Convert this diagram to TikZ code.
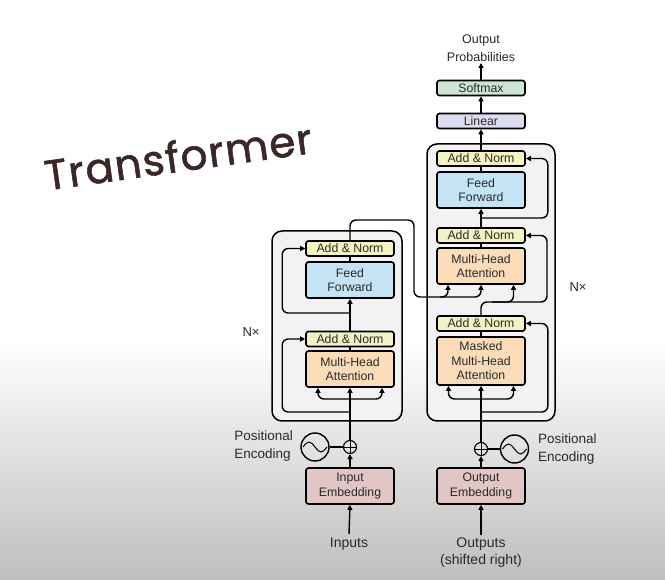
\documentclass[tikz,border=0pt]{standalone}
\usepackage{fontspec}
\setmainfont{Liberation Sans}
\newfontfamily\titlefont[FakeBold=1.4,LetterSpace=3]{Poppins}
\usetikzlibrary{arrows.meta,calc}
\definecolor{txt}{HTML}{2A2A2A}
\definecolor{anc}{HTML}{F2F2C2}
\definecolor{ffc}{HTML}{C4E3F5}
\definecolor{mhac}{HTML}{FADCB9}
\definecolor{embc}{HTML}{E2C6C6}
\definecolor{linc}{HTML}{DCDCF1}
\definecolor{softc}{HTML}{CDE5D3}
\definecolor{layerc}{HTML}{F2F2F5}
\definecolor{bgc}{HTML}{BEBEBE}
\definecolor{titlec}{HTML}{3B2727}
\begin{document}
\begin{tikzpicture}[x=1pt,y=-1pt,
  blk/.style={draw=black, line width=1.6pt, rounded corners=2.5pt, minimum width=88pt, inner sep=0pt, align=center, font=\fontsize{12.3}{14.5}\selectfont, text=txt},
  an/.style={blk, fill=anc, minimum height=15pt},
  big/.style={blk, minimum height=36pt},
  layer/.style={draw=black, line width=1.5pt, rounded corners=10pt, fill=layerc, inner sep=0pt},
  ln/.style={draw=black, line width=1.4pt},
  arr/.style={ln, -{Triangle[length=5pt,width=5pt]}},
  lbl/.style={text=txt, font=\fontsize{14}{17}\selectfont, align=center},
  plus/.style={circle, draw=black, line width=1.1pt, minimum size=13pt, inner sep=0pt},
  sinc/.style={circle, draw=black, line width=1.4pt, minimum size=28pt, inner sep=0pt},
  rc/.style={rounded corners=6pt}]
\useasboundingbox (0,0) rectangle (665,580);
% background
\fill[white] (0,0) rectangle (665,340);
\shade[top color=white, bottom color=bgc] (0,340) rectangle (665,580);
% title
\node[rotate=8, font=\titlefont\fontsize{42}{42}\selectfont, text=titlec] (title) at (178,156) {Transformer};
% layer frames
\node[layer, minimum width=130pt, minimum height=190pt] (encL) at (337,326) {};
\node[layer, minimum width=128pt, minimum height=277pt] (decL) at (491,282.5) {};
% encoder
\node[an] (eAN2) at (350,248.5) {Add \& Norm};
\node[big, fill=ffc] (eFF) at (350,280) {Feed\\Forward};
\node[an] (eAN1) at (350,339) {Add \& Norm};
\node[big, fill=mhac] (eMHA) at (350,369) {Multi-Head\\Attention};
\node[big, fill=embc] (eEmb) at (350,486) {Input\\Embedding};
\node[plus] (ePlus) at (350,447) {};
\node[sinc] (eSin) at (315,447) {};
\node[lbl, align=left, anchor=east, font=\fontsize{13.5}{18}\selectfont, inner sep=0pt] (ePE) at (293,446) {Positional\\Encoding};
\node[lbl, font=\fontsize{13}{15}\selectfont] (eNx) at (251,332) {N×};
\node[lbl] (inp) at (349,544) {Inputs};
% decoder
\node[big, fill=softc, minimum height=15pt] (dSoft) at (481,88) {Softmax};
\node[big, fill=linc, minimum height=15pt] (dLin) at (481,121) {Linear};
\node[an] (dAN3) at (481,158.5) {Add \& Norm};
\node[big, fill=ffc] (dFF) at (481,190) {Feed\\Forward};
\node[an] (dAN2) at (481,235.5) {Add \& Norm};
\node[big, fill=mhac] (dMHA) at (481,266) {Multi-Head\\Attention};
\node[an] (dAN1) at (481,323.5) {Add \& Norm};
\node[big, fill=mhac, minimum height=48pt] (dMMHA) at (481,361) {Masked\\Multi-Head\\Attention};
\node[big, fill=embc] (dEmb) at (481,486) {Output\\Embedding};
\node[plus] (dPlus) at (481,449) {};
\node[sinc] (dSin) at (514.5,449) {};
\node[lbl, align=left, anchor=west, font=\fontsize{13.5}{18}\selectfont, inner sep=0pt] (dPE) at (538,449) {Positional\\Encoding};
\node[lbl, font=\fontsize{13}{15}\selectfont] (dNx) at (578,287) {N×};
\node[lbl] (outp) at (481,553) {Outputs\\(shifted right)};
\node[lbl, font=\fontsize{12.5}{18}\selectfont, anchor=south, inner sep=1pt] (prob) at (481,63) {Output\\Probabilities};
% plus and sine glyphs
\draw[line width=0.8pt] (ePlus.north) -- (ePlus.south) (ePlus.west) -- (ePlus.east);
\draw[line width=0.8pt] (dPlus.north) -- (dPlus.south) (dPlus.west) -- (dPlus.east);
\draw[line width=1pt] ([xshift=-12pt]eSin.center) sin ++(6,-5) cos ++(6,5) sin ++(6,5) cos ++(6,-5);
\draw[line width=1pt] ([xshift=-12pt]dSin.center) sin ++(6,-5) cos ++(6,5) sin ++(6,5) cos ++(6,-5);
% helper coordinates
\coordinate (eF1) at (350,399);
\coordinate (eR1) at (350,412);
\coordinate (eR2) at (350,313);
\coordinate (cE1) at (414,220);
\coordinate (cE2) at (414,297);
\coordinate (cE3) at (440,297);
\coordinate (dF1) at (481,399);
\coordinate (dR1) at (481,412);
\coordinate (cD1) at (547,302);
\coordinate (cD2) at (492,302);
\coordinate (dR3) at (481,218);
% encoder connectors
\draw[arr] (inp.north) -- (eEmb.south);
\draw[arr] (eEmb.north) -- (ePlus.south);
\draw[ln] (eSin.east) -- (ePlus.west);
\draw[arr] (ePlus.north) -- (eMHA.south);
\draw[arr, rc] (eF1) -| ([xshift=-32pt]eMHA.south);
\draw[arr, rc] (eF1) -| ([xshift=32pt]eMHA.south);
\draw[arr, rc] (eR1) -| ([xshift=-23pt]eAN1.west) -- (eAN1.west);
\draw[ln] (eMHA.north) -- (eAN1.south);
\draw[arr] (eAN1.north) -- (eFF.south);
\draw[arr, rc] (eR2) -| ([xshift=-23pt]eAN2.west) -- (eAN2.west);
\draw[ln] (eFF.north) -- (eAN2.south);
\draw[arr, rc] (eAN2.north) |- (cE1) -- (cE2) -| ([xshift=-33pt]dMHA.south);
\draw[arr, rc] (cE3) -| (dMHA.south);
% decoder connectors
\draw[arr] (outp.north) -- (dEmb.south);
\draw[arr] (dEmb.north) -- (dPlus.south);
\draw[ln] (dSin.west) -- (dPlus.east);
\draw[arr] (dPlus.north) -- (dMMHA.south);
\draw[arr, rc] (dF1) -| ([xshift=-32.5pt]dMMHA.south);
\draw[arr, rc] (dF1) -| ([xshift=32.5pt]dMMHA.south);
\draw[arr, rc] (dR1) -| ([xshift=22pt]dAN1.east) -- (dAN1.east);
\draw[ln] (dMMHA.north) -- (dAN1.south);
\draw[arr, rc] (dAN1.north) |- (cD1) |- (dAN2.east);
\draw[arr, rc] (cD2) -| ([xshift=32.5pt]dMHA.south);
\draw[ln] (dMHA.north) -- (dAN2.south);
\draw[arr] (dAN2.north) -- (dFF.south);
\draw[arr, rc] (dR3) -| ([xshift=22pt]dAN3.east) -- (dAN3.east);
\draw[ln] (dFF.north) -- (dAN3.south);
\draw[arr] (dAN3.north) -- (dLin.south);
\draw[arr] (dLin.north) -- (dSoft.south);
\draw[arr] (dSoft.north) -- (prob.south);
\end{tikzpicture}
\end{document}
